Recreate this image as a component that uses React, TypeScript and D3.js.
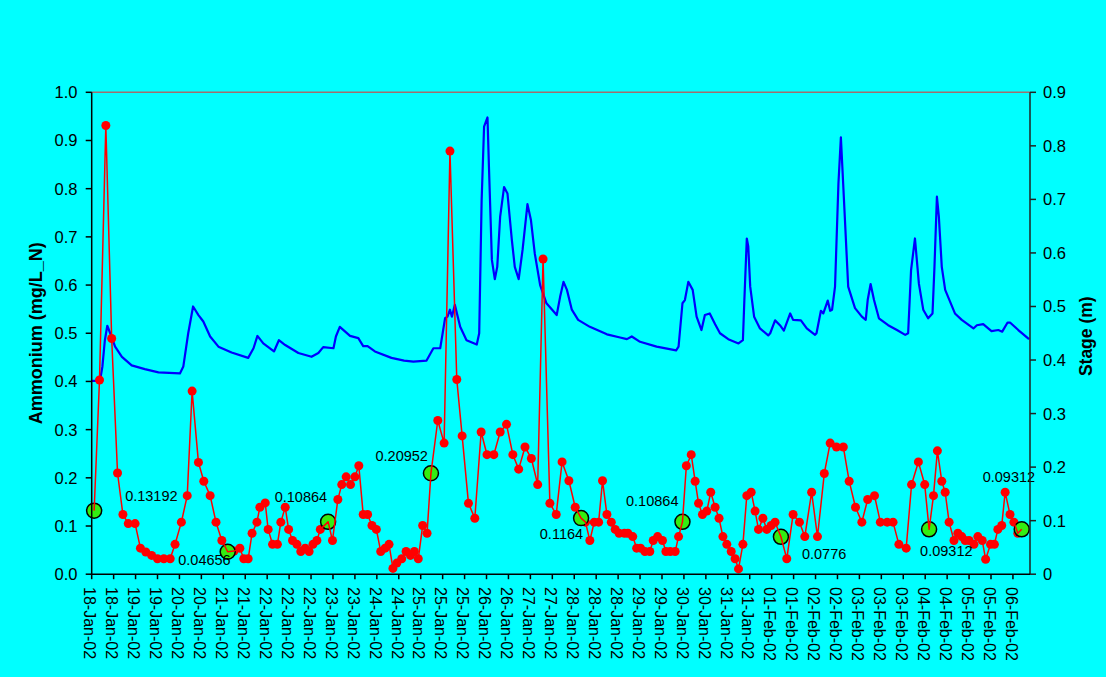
import React from 'react';
import * as d3 from 'd3';

const xTickLabels = [
  '18-Jan-02', '18-Jan-02', '19-Jan-02', '19-Jan-02', '20-Jan-02', '20-Jan-02', '21-Jan-02', '21-Jan-02',
  '22-Jan-02', '22-Jan-02', '22-Jan-02', '23-Jan-02', '23-Jan-02', '24-Jan-02', '24-Jan-02', '25-Jan-02',
  '25-Jan-02', '25-Jan-02', '26-Jan-02', '26-Jan-02', '27-Jan-02', '27-Jan-02', '28-Jan-02', '28-Jan-02',
  '28-Jan-02', '29-Jan-02', '29-Jan-02', '30-Jan-02', '30-Jan-02', '31-Jan-02', '31-Jan-02', '01-Feb-02',
  '01-Feb-02', '02-Feb-02', '02-Feb-02', '03-Feb-02', '03-Feb-02', '03-Feb-02', '04-Feb-02', '04-Feb-02',
  '05-Feb-02', '05-Feb-02', '06-Feb-02',
];
const xTickStepDays = 0.45;
const xDomainDays = [0, 19.25];

const leftTicks = [0, 0.1, 0.2, 0.3, 0.4, 0.5, 0.6, 0.7, 0.8, 0.9, 1.0];
const rightTicks = [0, 0.1, 0.2, 0.3, 0.4, 0.5, 0.6, 0.7, 0.8, 0.9];

// Ammonium (mg/L_N), days since 18-Jan-02 00:00
const ammoniumDays = [
  0.05, 0.16, 0.29, 0.41, 0.53, 0.64, 0.75, 0.89, 1.00, 1.11,
  1.23, 1.35, 1.48, 1.61, 1.71, 1.84, 1.96, 2.06, 2.19, 2.30,
  2.43, 2.55, 2.67, 2.79, 2.92, 3.04, 3.12, 3.21, 3.29, 3.39,
  3.45, 3.56, 3.62, 3.71, 3.81, 3.88, 3.97, 4.04, 4.12, 4.21,
  4.29, 4.38, 4.46, 4.54, 4.62, 4.69, 4.85, 4.94, 5.05, 5.13,
  5.22, 5.31, 5.40, 5.48, 5.57, 5.66, 5.75, 5.84, 5.93, 6.02,
  6.10, 6.18, 6.26, 6.36, 6.45, 6.54, 6.62, 6.70, 6.79, 6.88,
  6.96, 7.10, 7.23, 7.35, 7.49, 7.60, 7.73, 7.86, 7.99, 8.11,
  8.25, 8.38, 8.51, 8.64, 8.76, 8.89, 9.02, 9.15, 9.26, 9.40,
  9.53, 9.65, 9.79, 9.92, 10.04, 10.13, 10.22, 10.31, 10.40, 10.48,
  10.57, 10.66, 10.74, 10.82, 10.93, 11.00, 11.10, 11.18, 11.26, 11.35,
  11.45, 11.52, 11.61, 11.71, 11.78, 11.87, 11.97, 12.04, 12.12, 12.20,
  12.30, 12.38, 12.45, 12.53, 12.62, 12.70, 12.79, 12.87, 12.95, 13.03,
  13.12, 13.20, 13.27, 13.36, 13.44, 13.53, 13.61, 13.68, 13.77, 13.85,
  13.94, 14.02, 14.14, 14.26, 14.39, 14.52, 14.63, 14.77, 14.89, 15.03,
  15.15, 15.28, 15.42, 15.54, 15.67, 15.80, 15.92, 16.06, 16.18, 16.32,
  16.44, 16.56, 16.71, 16.82, 16.96, 17.09, 17.18, 17.27, 17.35, 17.44,
  17.51, 17.59, 17.69, 17.77, 17.85, 17.92, 18.00, 18.10, 18.18, 18.27,
  18.34, 18.44, 18.52, 18.59, 18.67, 18.74, 18.84, 18.92, 19.00, 19.08,
];
const ammoniumValues = [
  0.13192, 0.403, 0.931, 0.489, 0.210, 0.124, 0.105, 0.105, 0.054, 0.046,
  0.039, 0.032, 0.032, 0.032, 0.062, 0.108, 0.163, 0.380, 0.232, 0.193,
  0.163, 0.108, 0.070, 0.04656, 0.048, 0.054, 0.032, 0.032, 0.085, 0.108,
  0.139, 0.148, 0.093, 0.062, 0.062, 0.108, 0.139, 0.093, 0.070, 0.062,
  0.047, 0.054, 0.047, 0.062, 0.070, 0.093, 0.10864, 0.070, 0.155, 0.186,
  0.202, 0.186, 0.202, 0.225, 0.124, 0.124, 0.101, 0.093, 0.047, 0.054,
  0.062, 0.012, 0.023, 0.032, 0.047, 0.039, 0.047, 0.032, 0.101, 0.085,
  0.20952, 0.319, 0.272, 0.878, 0.404, 0.287, 0.147, 0.116, 0.295, 0.248,
  0.248, 0.295, 0.311, 0.248, 0.218, 0.264, 0.240, 0.186, 0.654, 0.147,
  0.124, 0.233, 0.194, 0.139, 0.1164, 0.108, 0.070, 0.108, 0.108, 0.194,
  0.124, 0.108, 0.093, 0.085, 0.085, 0.085, 0.078, 0.054, 0.054, 0.047,
  0.047, 0.070, 0.078, 0.070, 0.047, 0.047, 0.047, 0.078, 0.10864, 0.225,
  0.248, 0.193, 0.147, 0.124, 0.131, 0.170, 0.139, 0.116, 0.078, 0.062,
  0.047, 0.032, 0.011, 0.062, 0.163, 0.170, 0.131, 0.093, 0.116, 0.093,
  0.101, 0.108, 0.0776, 0.032, 0.124, 0.108, 0.078, 0.170, 0.078, 0.209,
  0.272, 0.264, 0.264, 0.193, 0.139, 0.108, 0.155, 0.163, 0.108, 0.108,
  0.108, 0.062, 0.054, 0.186, 0.233, 0.186, 0.09312, 0.163, 0.256, 0.193,
  0.170, 0.108, 0.070, 0.085, 0.078, 0.070, 0.070, 0.062, 0.078, 0.070,
  0.031, 0.062, 0.062, 0.093, 0.101, 0.170, 0.124, 0.108, 0.085, 0.09312,
];

// Stage (m)
const stageDays = [
  0, 0.17, 0.22, 0.27, 0.32, 0.38, 0.48, 0.62, 0.82, 1.09,
  1.37, 1.81, 1.88, 1.98, 2.08, 2.19, 2.29, 2.43, 2.60, 2.87,
  3.21, 3.32, 3.40, 3.52, 3.74, 3.84, 3.97, 4.24, 4.51, 4.65,
  4.75, 4.96, 5.01, 5.09, 5.30, 5.47, 5.57, 5.66, 5.81, 6.15,
  6.41, 6.60, 6.87, 7.01, 7.15, 7.25, 7.30, 7.35, 7.39, 7.45,
  7.56, 7.69, 7.90, 7.95, 8.00, 8.05, 8.12, 8.15, 8.21, 8.27,
  8.32, 8.38, 8.46, 8.53, 8.62, 8.68, 8.76, 8.84, 8.94, 9.01,
  9.09, 9.20, 9.33, 9.54, 9.61, 9.68, 9.75, 9.85, 9.98, 10.22,
  10.57, 10.84, 10.98, 11.08, 11.25, 11.59, 11.99, 12.04, 12.12, 12.17,
  12.24, 12.33, 12.41, 12.51, 12.58, 12.68, 12.79, 12.89, 13.06, 13.27,
  13.36, 13.39, 13.44, 13.47, 13.51, 13.59, 13.71, 13.88, 13.92, 14.02,
  14.12, 14.20, 14.33, 14.39, 14.55, 14.67, 14.84, 14.87, 14.96, 15.01,
  15.10, 15.15, 15.19, 15.25, 15.32, 15.37, 15.40, 15.45, 15.52, 15.66,
  15.80, 15.88, 15.92, 15.98, 16.05, 16.15, 16.34, 16.52, 16.69, 16.75,
  16.81, 16.89, 16.97, 17.06, 17.16, 17.25, 17.29, 17.34, 17.38, 17.44,
  17.51, 17.71, 17.85, 18.09, 18.16, 18.29, 18.46, 18.60, 18.68, 18.79,
  18.84, 19.01, 19.23,
];
const stageValues = [
  0.361, 0.361, 0.388, 0.437, 0.464, 0.450, 0.425, 0.406, 0.390, 0.383,
  0.377, 0.375, 0.388, 0.450, 0.500, 0.484, 0.472, 0.444, 0.425, 0.414,
  0.404, 0.422, 0.445, 0.431, 0.416, 0.437, 0.428, 0.413, 0.406, 0.413,
  0.424, 0.422, 0.444, 0.462, 0.445, 0.441, 0.426, 0.426, 0.416, 0.404,
  0.399, 0.397, 0.399, 0.422, 0.422, 0.478, 0.481, 0.494, 0.481, 0.503,
  0.462, 0.437, 0.429, 0.450, 0.699, 0.836, 0.853, 0.761, 0.587, 0.551,
  0.574, 0.668, 0.723, 0.711, 0.624, 0.574, 0.551, 0.606, 0.691, 0.662,
  0.599, 0.540, 0.506, 0.484, 0.518, 0.546, 0.531, 0.494, 0.475, 0.462,
  0.448, 0.442, 0.439, 0.444, 0.434, 0.425, 0.418, 0.425, 0.506, 0.512,
  0.546, 0.531, 0.481, 0.456, 0.484, 0.487, 0.467, 0.450, 0.439, 0.431,
  0.437, 0.512, 0.627, 0.612, 0.537, 0.481, 0.459, 0.446, 0.450, 0.474,
  0.465, 0.455, 0.487, 0.475, 0.474, 0.459, 0.447, 0.450, 0.492, 0.487,
  0.511, 0.492, 0.494, 0.537, 0.730, 0.816, 0.761, 0.668, 0.537, 0.497,
  0.481, 0.475, 0.512, 0.542, 0.512, 0.478, 0.465, 0.456, 0.447, 0.450,
  0.568, 0.627, 0.543, 0.494, 0.478, 0.487, 0.574, 0.705, 0.668, 0.574,
  0.531, 0.487, 0.475, 0.459, 0.465, 0.467, 0.454, 0.456, 0.453, 0.470,
  0.470, 0.456, 0.439,
];

// Highlighted (labelled) samples, by day
const labelledDays = [0.05, 2.79, 4.85, 6.96, 10.04, 12.12, 14.14, 17.18, 19.08];

// label placement relative to its point (layout only)
const labelPlacement = [
  { anchor: 'start', dx: 31, dy: -10 },
  { anchor: 'end', dx: 3, dy: 13 },
  { anchor: 'end', dx: -1, dy: -20 },
  { anchor: 'end', dx: -3, dy: -12 },
  { anchor: 'end', dx: 2, dy: 21 },
  { anchor: 'end', dx: -4, dy: -16 },
  { anchor: 'start', dx: 21, dy: 22 },
  { anchor: 'start', dx: -9, dy: 27 },
  { anchor: 'start', dx: -39, dy: -47 },
];

const FONT = "'Liberation Sans', Arial, Helvetica, sans-serif";

export default function App() {
  const W = 1106;
  const H = 677;
  const L = 91.7, R = 1030, T = 92.3, B = 574.2;

  const x = d3.scaleLinear().domain(xDomainDays).range([L, R]);
  const yL = d3.scaleLinear().domain([0, 1]).range([B, T]);
  const yR = d3.scaleLinear().domain([0, 0.9]).range([B, T]);

  const xTicks = xTickLabels.map((lab, i) => ({ v: i * xTickStepDays, lab }));

  const amm = ammoniumDays.map((d, i) => ({ d, v: ammoniumValues[i] }));
  const stage = stageDays.map((d, i) => ({ d, v: stageValues[i] }));

  const ammLine = d3.line<{ d: number; v: number }>().x(p => x(p.d)).y(p => yL(p.v));
  const stageLine = d3.line<{ d: number; v: number }>().x(p => x(p.d)).y(p => yR(p.v));

  const labelled = labelledDays.map((ld, k) => {
    let best = 0;
    amm.forEach((p, i) => {
      if (Math.abs(p.d - ld) < Math.abs(amm[best].d - ld)) best = i;
    });
    return { p: amm[best], place: labelPlacement[k] };
  });

  const fmtL = d3.format('.1f');
  const fmtR = (v: number) => (v === 0 ? '0' : d3.format('.1f')(v));

  return (
    <svg width={W} height={H} style={{ position: 'absolute', left: 0, top: 0 }} fontFamily={FONT}>
      <rect x={0} y={0} width={W} height={H} fill="#00ffff" />

      {/* plot border top */}
      <line x1={L} x2={R} y1={T} y2={T} stroke="#a0706e" strokeWidth={1.5} />

      {/* stage line */}
      <path d={stageLine(stage) || ''} fill="none" stroke="#0000ff" strokeWidth={2.2} strokeLinejoin="round" />

      {/* ammonium markers */}
      {amm.map((p, i) => (
        <circle key={'m' + i} cx={x(p.d)} cy={yL(p.v)} r={4.5} fill="#ff0000" />
      ))}
      {/* highlighted samples */}
      {labelled.map((o, i) => (
        <circle key={'g' + i} cx={x(o.p.d)} cy={yL(o.p.v)} r={7.5} fill="#33ee11" stroke="#000" strokeWidth={1.5} />
      ))}
      {/* ammonium line */}
      <path d={ammLine(amm) || ''} fill="none" stroke="#ff0000" strokeWidth={1.5} strokeLinejoin="round" />

      {/* data labels */}
      {labelled.map((o, i) => (
        <text
          key={'t' + i}
          x={x(o.p.d) + o.place.dx}
          y={yL(o.p.v) + o.place.dy}
          textAnchor={o.place.anchor as any}
          fontSize={14.5}
          fill="#000"
        >
          {String(o.p.v)}
        </text>
      ))}

      {/* left axis */}
      <line x1={L} x2={L} y1={T} y2={B} stroke="#000" strokeWidth={1.5} />
      {leftTicks.map((t, i) => (
        <g key={'lt' + i}>
          <line x1={L - 6} x2={L} y1={yL(t)} y2={yL(t)} stroke="#000" strokeWidth={1.5} />
          <text x={77.5} y={yL(t)} dy="0.36em" textAnchor="end" fontSize={16.5} fill="#000">
            {fmtL(t)}
          </text>
        </g>
      ))}

      {/* right axis */}
      <line x1={R} x2={R} y1={T} y2={B} stroke="#222" strokeWidth={1.5} />
      {rightTicks.map((t, i) => (
        <g key={'rt' + i}>
          <line x1={R} x2={R + 6} y1={yR(t)} y2={yR(t)} stroke="#222" strokeWidth={1.5} />
          <text x={1043} y={yR(t)} dy="0.36em" textAnchor="start" fontSize={16.5} fill="#000">
            {fmtR(t)}
          </text>
        </g>
      ))}

      {/* bottom axis */}
      <line x1={L} x2={R} y1={B} y2={B} stroke="#000" strokeWidth={1.5} />
      {xTicks.map((t, i) => (
        <g key={'xt' + i}>
          <line x1={x(t.v)} x2={x(t.v)} y1={B} y2={B + 5} stroke="#000" strokeWidth={1.5} />
          <text
            transform={`translate(${x(t.v) - 1.5},${587}) rotate(90)`}
            textAnchor="start"
            dy="0.36em"
            fontSize={16}
            fill="#000"
          >
            {t.lab}
          </text>
        </g>
      ))}

      {/* axis titles */}
      <text
        transform={`translate(36,${(T + B) / 2}) rotate(-90)`}
        textAnchor="middle"
        dy="0.36em"
        fontSize={18}
        fontWeight="bold"
        fill="#000"
      >
        Ammonium (mg/L_N)
      </text>
      <text
        transform={`translate(1086,${(T + B) / 2 + 3}) rotate(-90)`}
        textAnchor="middle"
        dy="0.36em"
        fontSize={17.5}
        fontWeight="bold"
        fill="#000"
      >
        Stage (m)
      </text>
    </svg>
  );
}
